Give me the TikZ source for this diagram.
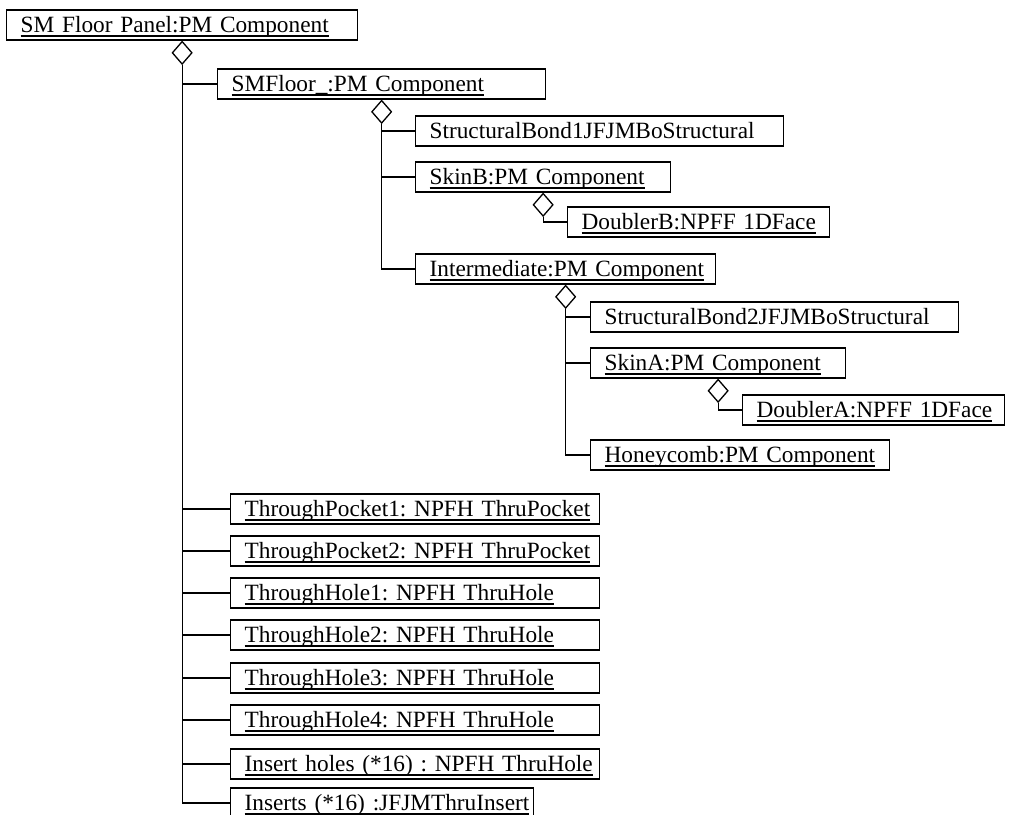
\documentclass[tikz,border=0pt]{standalone}
\usepackage{fontspec}
\setmainfont{Liberation Serif}
\usetikzlibrary{shapes.geometric}
\frenchspacing
\newcommand\ulx[1]{\setbox0\hbox{#1}\rlap{\rule[-4.5pt]{\wd0}{1.1pt}}\box0}
\tikzset{
  obj/.style={draw, line width=1.3pt, anchor=west, inner xsep=14pt, inner ysep=3pt,
    minimum height=30pt, text height=19pt, text depth=5pt, align=left,
    font=\fontsize{23.3}{26}\selectfont\frenchspacing},
  agg/.style={draw, diamond, line width=1.3pt, minimum width=20pt, minimum height=23pt,
    inner sep=0pt, anchor=north, fill=white},
  link/.style={line width=1.3pt},
}
\begin{document}
\begin{tikzpicture}[x=1pt,y=-1pt]
\useasboundingbox (0,0) rectangle (1009,814);
% nodes
\node[obj, text width=323pt] (root) at (6,25) {\ulx{SM Floor Panel:PM Component}};
\node[obj, text width=300pt] (smfloor) at (217,84) {\ulx{SMFloor\_:PM Component}};
\node[obj, text width=340pt] (sb1) at (415,131) {StructuralBond1JFJMBoStructural};
\node[obj, text width=227pt] (skinb) at (415,177) {\ulx{SkinB:PM Component}};
\node[obj, text width=234pt] (doublerb) at (567,222) {\ulx{DoublerB:NPFF 1DFace}};
\node[obj, text width=272pt] (inter) at (415,269) {\ulx{Intermediate:PM Component}};
\node[obj, text width=340pt] (sb2) at (590,317) {StructuralBond2JFJMBoStructural};
\node[obj, text width=227pt] (skina) at (590,363) {\ulx{SkinA:PM Component}};
\node[obj, text width=234pt] (doublera) at (742,410) {\ulx{DoublerA:NPFF 1DFace}};
\node[obj, text width=271pt] (honey) at (590,455) {\ulx{Honeycomb:PM Component}};
\node[obj, text width=341pt] (tp1) at (230,509) {\ulx{ThroughPocket1: NPFH ThruPocket}};
\node[obj, text width=341pt] (tp2) at (230,551) {\ulx{ThroughPocket2: NPFH ThruPocket}};
\node[obj, text width=341pt] (th1) at (230,593) {\ulx{ThroughHole1: NPFH ThruHole}};
\node[obj, text width=341pt] (th2) at (230,635) {\ulx{ThroughHole2: NPFH ThruHole}};
\node[obj, text width=341pt] (th3) at (230,678) {\ulx{ThroughHole3: NPFH ThruHole}};
\node[obj, text width=341pt] (th4) at (230,720) {\ulx{ThroughHole4: NPFH ThruHole}};
\node[obj, text width=341pt] (ih) at (230,764) {\ulx{Insert holes (*16) : NPFH ThruHole}};
\node[obj, text width=275pt] (ins) at (230,803) {\ulx{Inserts (*16) :JFJMThruInsert}};
% aggregation diamonds
\node[agg] (d0) at (root.south) {};
\node[agg] (d1) at (smfloor.south) {};
\node[agg] (d2) at (skinb.south) {};
\node[agg] (d3) at (inter.south) {};
\node[agg] (d4) at (skina.south) {};
% connectors
\foreach \c in {smfloor,tp1,tp2,th1,th2,th3,th4,ih,ins}
  \draw[link] (d0.south) |- (\c.west);
\foreach \c in {sb1,skinb,inter}
  \draw[link] (d1.south) |- (\c.west);
\draw[link] (d2.south) |- (doublerb.west);
\foreach \c in {sb2,skina,honey}
  \draw[link] (d3.south) |- (\c.west);
\draw[link] (d4.south) |- (doublera.west);
\end{tikzpicture}
\end{document}
